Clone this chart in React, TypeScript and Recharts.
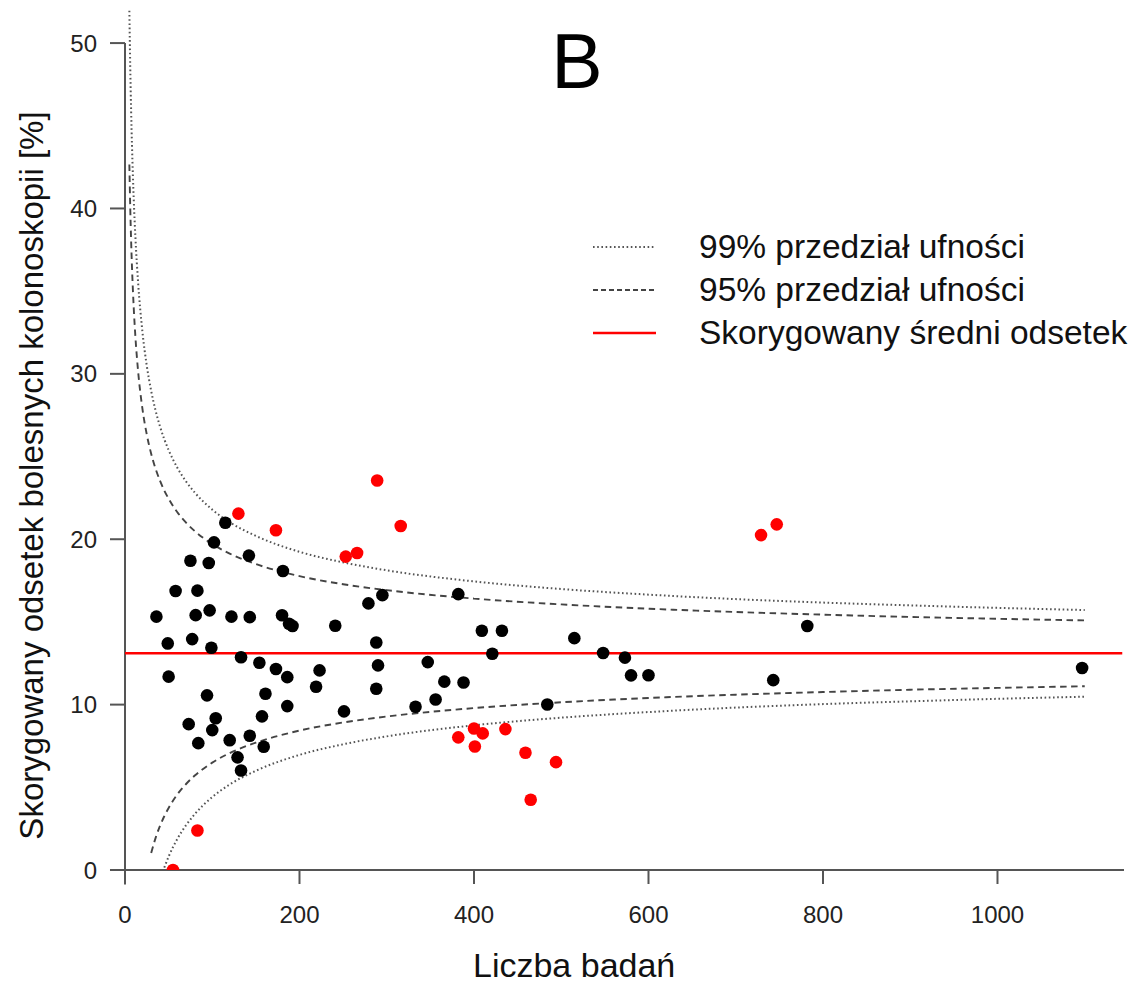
import React from "react";
import {
  ComposedChart,
  Line,
  Scatter,
  XAxis,
  YAxis,
  ReferenceLine,
  Legend,
} from "recharts";

const FONT = '"Liberation Sans", Arial, sans-serif';

// study size grid for the funnel limits
const nGrid = [5, 6, 7, 8, 10, 12, 15, 20, 25, 30, 35, 40, 45, 50, 60, 70, 80, 100, 120, 150, 200, 250, 300, 400, 500, 600, 700, 800, 900, 1000, 1100];
const upper99 = [51.96, 48.58, 45.94, 43.83, 40.58, 38.19, 35.54, 32.53, 30.48, 28.97, 27.79, 26.84, 26.05, 25.39, 24.32, 23.49, 22.82, 21.79, 21.03, 20.2, 19.24, 18.6, 18.12, 17.45, 16.99, 16.65, 16.38, 16.17, 16.0, 15.85, 15.72];
const upper95 = [42.66, 40.09, 38.08, 36.47, 34.0, 32.18, 30.17, 27.88, 26.32, 25.17, 24.27, 23.55, 22.95, 22.45, 21.63, 21.0, 20.49, 19.71, 19.13, 18.5, 17.77, 17.28, 16.92, 16.41, 16.06, 15.8, 15.6, 15.44, 15.3, 15.19, 15.09];
const lower95 = [null, null, null, null, null, null, null, null, null, 1.03, 1.93, 2.65, 3.25, 3.75, 4.57, 5.2, 5.71, 6.49, 7.07, 7.7, 8.43, 8.92, 9.28, 9.79, 10.14, 10.4, 10.6, 10.76, 10.9, 11.01, 11.11];
const lower99 = [null, null, null, null, null, null, null, null, null, null, null, null, 0.15, 0.81, 1.88, 2.71, 3.38, 4.41, 5.17, 6.0, 6.96, 7.6, 8.08, 8.75, 9.21, 9.55, 9.82, 10.03, 10.2, 10.35, 10.48];

const meanRate = 13.1;
const meanLineEnd = 1143;

// [liczba badań, odsetek]
const redPoints = [
  [130, 21.55], [173, 20.54], [83, 2.39], [55, 0], [289, 23.55], [316, 20.8],
  [253, 18.95], [266, 19.17], [382, 8.02], [400, 8.56], [410, 8.26], [401, 7.47],
  [436, 8.52], [459, 7.09], [494, 6.52], [465, 4.25], [729, 20.25], [747, 20.9],
];

const blackPoints = [
  [115, 21.0], [102, 19.81], [142, 19.01], [75, 18.7], [96, 18.56], [181, 18.08],
  [58, 16.87], [83, 16.89], [36, 15.32], [81, 15.41], [97, 15.7], [122, 15.32],
  [143, 15.29], [180, 15.4], [188, 14.89], [192, 14.75], [49, 13.7], [77, 13.96],
  [99, 13.44], [133, 12.86], [154, 12.53], [173, 12.15], [186, 11.66], [223, 12.07],
  [219, 11.08], [50, 11.69], [94, 10.56], [161, 10.66], [186, 9.91], [104, 9.18],
  [157, 9.29], [73, 8.82], [100, 8.46], [84, 7.67], [120, 7.85], [143, 8.12],
  [159, 7.45], [129, 6.81], [133, 6.02], [241, 14.77], [279, 16.12], [295, 16.62],
  [382, 16.68], [288, 13.76], [409, 14.47], [432, 14.47], [421, 13.08], [515, 14.02],
  [548, 13.12], [573, 12.84], [580, 11.77], [600, 11.78], [290, 12.37], [288, 10.96],
  [347, 12.57], [366, 11.39], [388, 11.34], [356, 10.31], [333, 9.87], [251, 9.59],
  [484, 10.01], [782, 14.75], [743, 11.48], [1097, 12.21],
];

const xTicks = [0, 200, 400, 600, 800, 1000];
const yTicks = [0, 10, 20, 30, 40, 50];

const DOTTED = "1.6 2.6";
const DASHED = "6.5 4.5";

const legendItems = [
  { label: "99% przedział ufności", dash: DOTTED, color: "#555", width: 2 },
  { label: "95% przedział ufności", dash: "5 3", color: "#444", width: 1.9 },
  { label: "Skorygowany średni odsetek", dash: undefined, color: "#ff0000", width: 2.5 },
];

const limits = nGrid.map((n, i) => ({
  n,
  u99: upper99[i],
  u95: upper95[i],
  l95: lower95[i],
  l99: lower99[i],
}));

const redData = redPoints.map(([n, v]) => ({ n, v }));
const blackData = blackPoints.map(([n, v]) => ({ n, v }));

const AXIS = "#555";

const dot = (fill: string) => (p: any) => (
  <circle cx={p.cx} cy={p.cy} r={6.3} fill={fill} />
);

function LegendBox() {
  return (
    <div style={{ fontFamily: FONT }}>
      {legendItems.map((it) => (
        <div
          key={it.label}
          style={{ display: "flex", alignItems: "center", height: 43 }}
        >
          <svg width={63} height={6} style={{ marginRight: 43 }}>
            <line
              x1={0}
              y1={3}
              x2={63}
              y2={3}
              stroke={it.color}
              strokeWidth={it.width}
              strokeDasharray={it.dash}
            />
          </svg>
          <span style={{ fontSize: 33.5, color: "#111", whiteSpace: "nowrap" }}>
            {it.label}
          </span>
        </div>
      ))}
    </div>
  );
}

export default function App() {
  return (
    <div style={{ position: "relative", width: 1133, height: 977, fontFamily: FONT }}>
      <div
        style={{
          position: "absolute",
          left: 519,
          top: 15,
          width: 100,
          textAlign: "center",
          fontSize: 77,
          lineHeight: "77px",
          color: "#000",
          zIndex: 2,
        }}
      >
        B
      </div>
      <ComposedChart
        width={1133}
        height={977}
        data={limits}
        margin={{ top: 2, right: 17, bottom: 0, left: 0 }}
      >
        <XAxis
          type="number"
          dataKey="n"
          domain={[0, 1145]}
          ticks={xTicks}
          allowDataOverflow
          height={115}
          axisLine={false}
          tickSize={14}
          tickMargin={22}
          tickLine={{ stroke: AXIS, strokeWidth: 2 }}
          tick={{ fill: "#222", fontSize: 24, fontFamily: FONT }}
          label={() => (
            <text x={465} y={969} fontSize={34} fill="#111" fontFamily={FONT}>
              Liczba badań
            </text>
          )}
        />
        <YAxis
          type="number"
          dataKey="v"
          domain={[0, 52]}
          ticks={yTicks}
          allowDataOverflow
          width={117}
          axisLine={false}
          tickSize={15}
          tickMargin={13}
          tickLine={{ stroke: AXIS, strokeWidth: 2 }}
          tick={{ fill: "#222", fontSize: 24, fontFamily: FONT }}
          label={() => (
            <text
              x={35}
              y={467.5}
              transform="rotate(-90 35 467.5)"
              textAnchor="middle"
              fontSize={33}
              fill="#111"
              fontFamily={FONT}
            >
              Skorygowany odsetek bolesnych kolonoskopii [%]
            </text>
          )}
        />
        <Legend
          layout="vertical"
          align="center"
          verticalAlign="middle"
          content={() => <LegendBox />}
          wrapperStyle={{ left: 585, top: 217, width: 560, height: 129 }}
        />
        <ReferenceLine
          segment={[{ x: -17.2, y: 0 }, { x: 1145, y: 0 }]}
          stroke={AXIS}
          strokeWidth={2}
          ifOverflow="visible"
        />
        <ReferenceLine
          segment={[{ x: 0, y: -0.88 }, { x: 0, y: 50 }]}
          stroke={AXIS}
          strokeWidth={2}
          ifOverflow="visible"
        />
        <Line
          dataKey="u99"
          type="monotone"
          stroke="#555"
          strokeWidth={2}
          strokeDasharray={DOTTED}
          dot={false}
          activeDot={false}
          isAnimationActive={false}
        />
        <Line
          dataKey="l99"
          type="monotone"
          stroke="#555"
          strokeWidth={2}
          strokeDasharray={DOTTED}
          dot={false}
          activeDot={false}
          isAnimationActive={false}
        />
        <Line
          dataKey="u95"
          type="monotone"
          stroke="#444"
          strokeWidth={1.9}
          strokeDasharray={DASHED}
          dot={false}
          activeDot={false}
          isAnimationActive={false}
        />
        <Line
          dataKey="l95"
          type="monotone"
          stroke="#444"
          strokeWidth={1.9}
          strokeDasharray={DASHED}
          dot={false}
          activeDot={false}
          isAnimationActive={false}
        />
        <ReferenceLine
          segment={[{ x: 0, y: meanRate }, { x: meanLineEnd, y: meanRate }]}
          stroke="#ff0000"
          strokeWidth={2.5}
          ifOverflow="visible"
        />
        <Scatter data={blackData} shape={dot("#000")} isAnimationActive={false} />
        <Scatter data={redData} shape={dot("#ff0000")} isAnimationActive={false} />
      </ComposedChart>
    </div>
  );
}
